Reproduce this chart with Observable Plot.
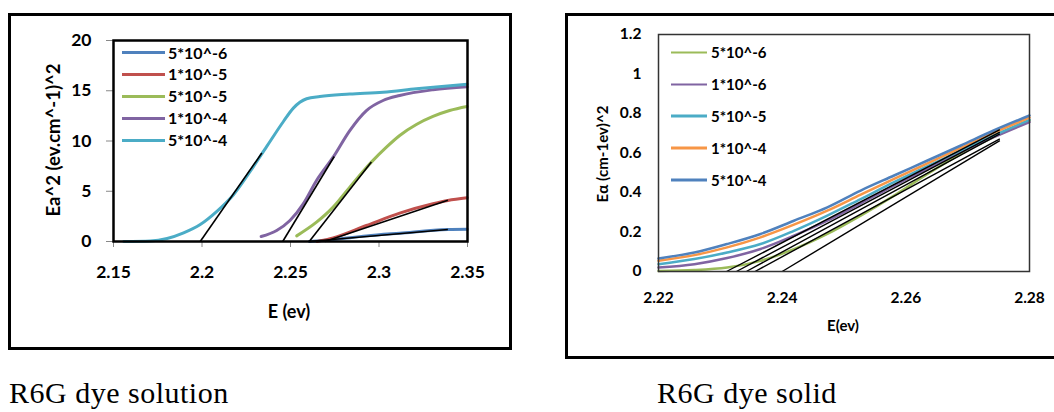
<!DOCTYPE html>
<html>
<head>
<meta charset="utf-8">
<script src="https://cdn.jsdelivr.net/npm/d3@7"></script>
<script src="https://cdn.jsdelivr.net/npm/@observablehq/plot@0.6"></script>
<style>
  html, body { margin: 0; padding: 0; background: #fff; }
  #page { position: relative; width: 1054px; height: 412px; overflow: hidden; background: #fff; font-family: Lato, "DejaVu Sans", sans-serif; }
  .box { position: absolute; border: 3px solid #000; box-sizing: border-box; }
  .t { position: absolute; font-family: Lato, sans-serif; font-weight: 700; color: #000; white-space: nowrap; line-height: 1; }
  .cap { position: absolute; font-family: "Liberation Serif", "Times New Roman", serif; font-size: 30px; letter-spacing: 0.5px; color: #000; white-space: nowrap; line-height: 1; }
  .legrow { position: absolute; display: flex; align-items: center; }
  .legrow span.ln { display: inline-block; }
  .legrow span.tx { font-family: Lato, sans-serif; font-weight: 700; color: #000; white-space: nowrap; line-height: 1; }
</style>
</head>
<body>
<div id="page"></div>
<script>
// ---------------- DATA: R6G dye solution (left) ----------------
const solSeriesNames = ["5*10^-6", "1*10^-5", "5*10^-5", "1*10^-4", "5*10^-4"];
const solColors = ["#4F81BD", "#C0504D", "#9BBB59", "#8064A2", "#4BACC6"];
const sol5e6 = [[2.2606,0],[2.2741,0.2],[2.2929,0.56],[2.3117,0.83],[2.3389,1.19],[2.3498,1.22]];
const sol1e5 = [[2.2650,0],[2.2741,0.36],[2.2929,1.59],[2.3117,2.82],[2.3305,3.75],[2.3389,4.08],[2.3498,4.35]];
const sol5e5 = [[2.2535,0.56],[2.2647,1.92],[2.2741,3.42],[2.2835,5.41],[2.2957,7.9],[2.3042,9.39],[2.3117,10.55],[2.3211,11.64],[2.3305,12.44],[2.3399,13.03],[2.3498,13.43]];
const sol1e4 = [[2.2334,0.5],[2.2422,1.1],[2.2497,2.09],[2.2572,3.75],[2.2647,6.07],[2.2741,8.39],[2.2835,11.04],[2.2929,13.03],[2.3023,14.03],[2.3117,14.53],[2.3305,15.1],[2.3498,15.4]];
const sol5e4 = [[2.1558,0],[2.1708,0.05],[2.1803,0.3],[2.1896,0.86],[2.199,1.69],[2.2084,3.0],[2.2178,4.66],[2.2272,6.97],[2.2366,9.46],[2.246,11.94],[2.2516,13.27],[2.2591,14.2],[2.2666,14.43],[2.2835,14.67],[2.3023,14.86],[2.3211,15.2],[2.3498,15.65]];
// tangent (Tauc) lines: [E at zero, E end, value at end]
const solTangents = [[2.2606,2.3389,1.19],[2.2694,2.3389,4.11],[2.2606,2.2957,7.9],[2.2456,2.2747,8.46],[2.199,2.2338,8.8]];
const solXTicks = [2.15, 2.2, 2.25, 2.3, 2.35];
const solXTickLabels = ["2.15", "2.2", "2.25", "2.3", "2.35"];
const solYTicks = [0, 5, 10, 15, 20];
const solYTickLabels = ["0", "5", "10", "15", "20"];

// ---------------- DATA: R6G dye solid (right) ----------------
const sldSeriesNames = ["5*10^-6", "1*10^-6", "5*10^-5", "1*10^-4", "5*10^-4"];
const sldColors = ["#9BBB59", "#8064A2", "#4BACC6", "#F79646", "#4F81BD"];
const sldE = [2.22, 2.2258, 2.2311, 2.2365, 2.2419, 2.2473, 2.2527, 2.2581, 2.2635, 2.2689, 2.2742, 2.28];
const sld5e6 = [0.003, 0.007, 0.02, 0.054, 0.113, 0.19, 0.283, 0.384, 0.494, 0.596, 0.68, 0.765];
const sld1e6 = [0.02, 0.037, 0.068, 0.114, 0.181, 0.257, 0.345, 0.435, 0.52, 0.604, 0.68, 0.757];
const sld5e5 = [0.037, 0.063, 0.096, 0.139, 0.206, 0.283, 0.367, 0.452, 0.533, 0.613, 0.689, 0.768];
const sld1e4 = [0.054, 0.083, 0.122, 0.173, 0.237, 0.308, 0.389, 0.469, 0.548, 0.626, 0.702, 0.779];
const sld5e4 = [0.066, 0.096, 0.139, 0.19, 0.257, 0.325, 0.41, 0.486, 0.562, 0.638, 0.714, 0.79];
const sldTangents = [[2.2310,2.2752,0.718],[2.2326,2.2752,0.706],[2.2342,2.2752,0.697],[2.2356,2.2752,0.672],[2.2400,2.2752,0.663]];
const sldXTicks = [2.22, 2.24, 2.26, 2.28];
const sldXTickLabels = ["2.22", "2.24", "2.26", "2.28"];
const sldYTicks = [0, 0.2, 0.4, 0.6, 0.8, 1, 1.2];
const sldYTickLabels = ["0", "0.2", "0.4", "0.6", "0.8", "1", "1.2"];

// ---------------- build ----------------
const page = document.getElementById("page");
function el(tag, cls, css, text) {
  const e = document.createElement(tag);
  if (cls) e.className = cls;
  Object.assign(e.style, css || {});
  if (text != null) e.textContent = text;
  page.appendChild(e);
  return e;
}

// boxes
el("div", "box", {left: "8px", top: "13px", width: "504px", height: "337px"});
el("div", "box", {left: "565px", top: "13px", width: "500px", height: "346px"});

// ---- left plot ----
const solRows = [];
[sol5e6, sol1e5, sol5e5, sol1e4, sol5e4].forEach((arr, i) => arr.forEach(([E, v]) => solRows.push({s: solSeriesNames[i], E, v})));
const solLinks = solTangents.map(([E0, E1, v1]) => ({E0, E1, v0: 0, v1}));

const left = Plot.plot({
  width: 496, height: 329,
  marginLeft: 101, marginRight: 41, marginTop: 23, marginBottom: 105,
  x: {domain: [2.15, 2.35]},
  y: {domain: [0, 20]},
  color: {domain: solSeriesNames, range: solColors},
  style: {fontFamily: "Lato", fontSize: "17.5px", fontWeight: "700", color: "#000", background: "transparent", overflow: "visible"},
  marks: [
    Plot.axisX({ticks: solXTicks, tickFormat: (d, i) => solXTickLabels[i], tickSize: 6, tickPadding: 18, stroke: "#888", fill: "#000", fontSize: 17.5, label: null}),
    Plot.axisY({ticks: solYTicks, tickFormat: (d, i) => solYTickLabels[i], tickSize: 7, tickPadding: 15, stroke: "#888", fill: "#000", fontSize: 17.5, label: null}),
    Plot.line(solRows, {x: "E", y: "v", z: "s", stroke: "s", strokeWidth: 3, curve: "monotone-x"}),
    Plot.link(solLinks, {x1: "E0", y1: "v0", x2: "E1", y2: "v1", stroke: "#000", strokeWidth: 1.6}),
    Plot.frame({stroke: "#000", strokeWidth: 2.5})
  ]
});
Object.assign(left.style, {position: "absolute", left: "12px", top: "17px"});
page.appendChild(left);

// ---- right plot ----
const sldRows = [];
[sld5e6, sld1e6, sld5e5, sld1e4, sld5e4].forEach((arr, i) => arr.forEach((v, j) => sldRows.push({s: sldSeriesNames[i] + "#" + i, c: i, E: sldE[j], v})));
const sldLinks = sldTangents.map(([E0, E1, v1]) => ({E0, E1, v0: 0, v1}));

const right = Plot.plot({
  width: 485, height: 338,
  marginLeft: 89, marginRight: 25, marginTop: 17, marginBottom: 84,
  x: {domain: [2.22, 2.28]},
  y: {domain: [0, 1.2]},
  color: {domain: [0, 1, 2, 3, 4], range: sldColors},
  style: {fontFamily: "Lato", fontSize: "15.5px", fontWeight: "700", color: "#000", background: "transparent", overflow: "visible"},
  marks: [
    Plot.axisX({ticks: sldXTicks, tickFormat: (d, i) => sldXTickLabels[i], tickSize: 0, tickPadding: 20, fill: "#000", fontSize: 15.5, label: null}),
    Plot.axisY({ticks: sldYTicks, tickFormat: (d, i) => sldYTickLabels[i], tickSize: 0, tickPadding: 17, fill: "#000", fontSize: 15.5, label: null}),
    Plot.line(sldRows, {x: "E", y: "v", z: "s", stroke: "c", strokeWidth: 2.5, curve: "catmull-rom"}),
    Plot.link(sldLinks, {x1: "E0", y1: "v0", x2: "E1", y2: "v1", stroke: "#000", strokeWidth: 1.4}),
    Plot.frame({stroke: "#333", strokeWidth: 1.5})
  ]
});
Object.assign(right.style, {position: "absolute", left: "569px", top: "17px"});
page.appendChild(right);

// ---- axis titles ----
el("div", "t", {fontSize: "18.5px", left: "53px", top: "140px", transform: "translate(-50%,-50%) rotate(-90deg)"}, "Ea^2 (ev.cm^-1)^2");
el("div", "t", {fontSize: "18px", left: "289px", top: "311px", transform: "translate(-50%,-50%)"}, "E (ev)");
el("div", "t", {fontSize: "15px", left: "602px", top: "154px", transform: "translate(-50%,-50%) rotate(-90deg)"}, "Eα (cm-1ev)^2");
el("div", "t", {fontSize: "15px", left: "843px", top: "325px", transform: "translate(-50%,-50%)"}, "E(ev)");

// ---- legends ----
function legend(names, colors, x0, lineW, ys, lw, fs, gap) {
  names.forEach((n, i) => {
    const row = el("div", "legrow", {left: x0 + "px", top: ys[i] + "px", transform: "translateY(-50%)"});
    const ln = document.createElement("span");
    ln.className = "ln";
    Object.assign(ln.style, {width: lineW + "px", height: lw + "px", background: colors[i], marginRight: gap + "px"});
    const tx = document.createElement("span");
    tx.className = "tx";
    tx.style.fontSize = fs + "px";
    tx.textContent = n;
    row.appendChild(ln); row.appendChild(tx);
  });
}
legend(solSeriesNames, solColors, 122, 43, [52.7, 74, 96, 118.3, 140], 3, 16, 3);
legend(sldSeriesNames, sldColors, 671, 36, [52.3, 84.3, 116, 148, 180], 2.5, 15, 4);

// ---- captions ----
el("div", "cap", {left: "9px", top: "378px"}, "R6G dye solution");
el("div", "cap", {left: "657px", top: "378px"}, "R6G dye solid");
</script>
</body>
</html>
